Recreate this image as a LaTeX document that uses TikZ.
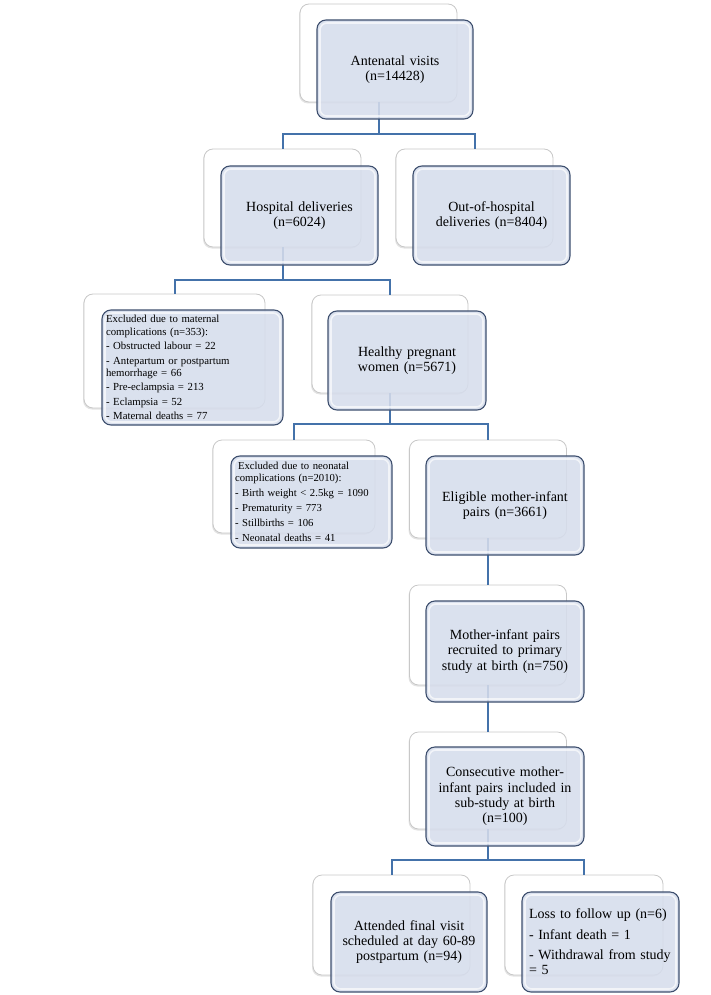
\documentclass[tikz,border=0pt]{standalone}
\usepackage{fontspec}
\setmainfont{Liberation Serif}
\usetikzlibrary{shadows}
\definecolor{frontfill}{RGB}{214,221,236}
\definecolor{frontdraw}{RGB}{62,79,110}
\definecolor{backdraw}{RGB}{200,200,200}
\definecolor{conncol}{RGB}{68,114,170}
\newcommand{\mainsz}{\fontsize{14}{15.3}\selectfont}
\newcommand{\matsz}{\fontsize{10.8}{12.7}\selectfont}
\newcommand{\neosz}{\fontsize{10.7}{12}\selectfont}
\tikzset{
  backbox/.style={draw=backdraw, fill=white, line width=0.8pt, rounded corners=9pt,
    inner sep=0pt, outer sep=0pt,
    drop shadow={shadow xshift=-1pt, shadow yshift=-1.5pt, opacity=0.18, fill=black!60}},
  frontbox/.style={draw=frontdraw, line width=1.1pt, fill=frontfill, fill opacity=0.88,
    text opacity=1, rounded corners=9pt, inner sep=4pt, outer sep=0pt,
    font=\mainsz, align=center,
    path picture={\draw[white, draw opacity=0.65, line width=1.6pt, rounded corners=7pt]
      ([shift={(3pt,-3pt)}]path picture bounding box.north west) rectangle
      ([shift={(-3pt,3pt)}]path picture bounding box.south east);}},
  conn/.style={draw=conncol, line width=2pt},
}
\begin{document}
\begin{tikzpicture}[x=1pt,y=-1pt]
\useasboundingbox (0,0) rectangle (711,995);
% back boxes
\node[backbox, minimum width=157pt, minimum height=98pt]  (b1)  at (378.5,53) {};
\node[backbox, minimum width=157pt, minimum height=98pt]  (b2)  at (282.5,198) {};
\node[backbox, minimum width=157pt, minimum height=98pt]  (b3)  at (474.5,198) {};
\node[backbox, minimum width=181pt, minimum height=114pt] (b4)  at (174.5,351) {};
\node[backbox, minimum width=156pt, minimum height=98pt]  (b5)  at (390,344) {};
\node[backbox, minimum width=162pt, minimum height=93pt]  (b6)  at (294,486.5) {};
\node[backbox, minimum width=157pt, minimum height=98pt]  (b7)  at (488,489) {};
\node[backbox, minimum width=157pt, minimum height=100pt] (b8)  at (488,635) {};
\node[backbox, minimum width=157pt, minimum height=97pt]  (b9)  at (488,780.5) {};
\node[backbox, minimum width=157pt, minimum height=100pt] (b10) at (391.5,925) {};
\node[backbox, minimum width=158pt, minimum height=100pt] (b11) at (584,925) {};
% junction levels
\coordinate (j1) at (0,134);
\coordinate (j2) at (0,280);
\coordinate (j3) at (0,424);
\coordinate (j5) at (0,860);
% connectors
\draw[conn] (b1.south) -- (b1.south |- j1) -| (b2.north);
\draw[conn] (b1.south) -- (b1.south |- j1) -| (b3.north);
\draw[conn] (b2.south) -- (b2.south |- j2) -| (b4.north);
\draw[conn] (b2.south) -- (b2.south |- j2) -| (b5.north);
\draw[conn] (b5.south) -- (b5.south |- j3) -| (b6.north);
\draw[conn] (b5.south) -- (b5.south |- j3) -| (b7.north);
\draw[conn] (b7.south) -- (b8.north);
\draw[conn] (b8.south) -- (b9.north);
\draw[conn] (b9.south) -- (b9.south |- j5) -| (b10.north);
\draw[conn] (b9.south) -- (b9.south |- j5) -| (b11.north);
% front boxes
\node[frontbox, minimum width=156pt, minimum height=99pt, text width=148pt] (f1) at (395,69.5)
  {Antenatal visits\\(n=14428)};
\node[frontbox, minimum width=157pt, minimum height=99pt, text width=149pt] (f2) at (299.5,215.5)
  {Hospital deliveries\\(n=6024)};
\node[frontbox, minimum width=157pt, minimum height=99pt, text width=149pt] (f3) at (491.5,215.5)
  {Out-of-hospital\\deliveries (n=8404)};
\node[frontbox, minimum width=181pt, minimum height=115pt, text width=173pt, align=left, font=\matsz] (f4) at (192.5,367.5)
  {Excluded due to maternal\\complications (n=353):\\[1.5pt]- Obstructed labour = 22\\[1.5pt]- Antepartum or postpartum\\hemorrhage = 66\\[1.5pt]- Pre-eclampsia = 213\\[1.5pt]- Eclampsia = 52\\[1.5pt]- Maternal deaths = 77};
\node[frontbox, minimum width=158pt, minimum height=99pt, text width=150pt] (f5) at (407,360.5)
  {Healthy pregnant\\women (n=5671)};
\node[frontbox, minimum width=161pt, minimum height=92pt, text width=153pt, align=left, font=\neosz] (f6) at (311.5,502)
  {\hspace*{3pt}Excluded due to neonatal\\complications (n=2010):\\[3pt]- Birth weight < 2.5kg = 1090\\[3pt]- Prematurity = 773\\[3pt]- Stillbirths = 106\\[3pt]- Neonatal deaths = 41};
\node[frontbox, minimum width=158pt, minimum height=99pt, text width=150pt] (f7) at (505,505.5)
  {Eligible mother-infant\\pairs (n=3661)};
\node[frontbox, minimum width=158pt, minimum height=101pt, text width=150pt] (f8) at (505,651.5)
  {Mother-infant pairs\\recruited to primary\\study at birth (n=750)};
\node[frontbox, minimum width=158pt, minimum height=99pt, text width=150pt] (f9) at (505,796.5)
  {Consecutive mother-\\infant pairs included in\\sub-study at birth\\(n=100)};
\node[frontbox, minimum width=156pt, minimum height=100pt, text width=148pt] (f10) at (409,942)
  {Attended final visit\\scheduled at day 60-89\\postpartum (n=94)};
\node[frontbox, minimum width=157pt, minimum height=100pt, text width=143pt, inner xsep=7pt, align=left] (f11) at (600.5,942)
  {Loss to follow up (n=6)\\[5pt]- Infant death = 1\\[5pt]- Withdrawal from study\\= 5};
\end{tikzpicture}
\end{document}
